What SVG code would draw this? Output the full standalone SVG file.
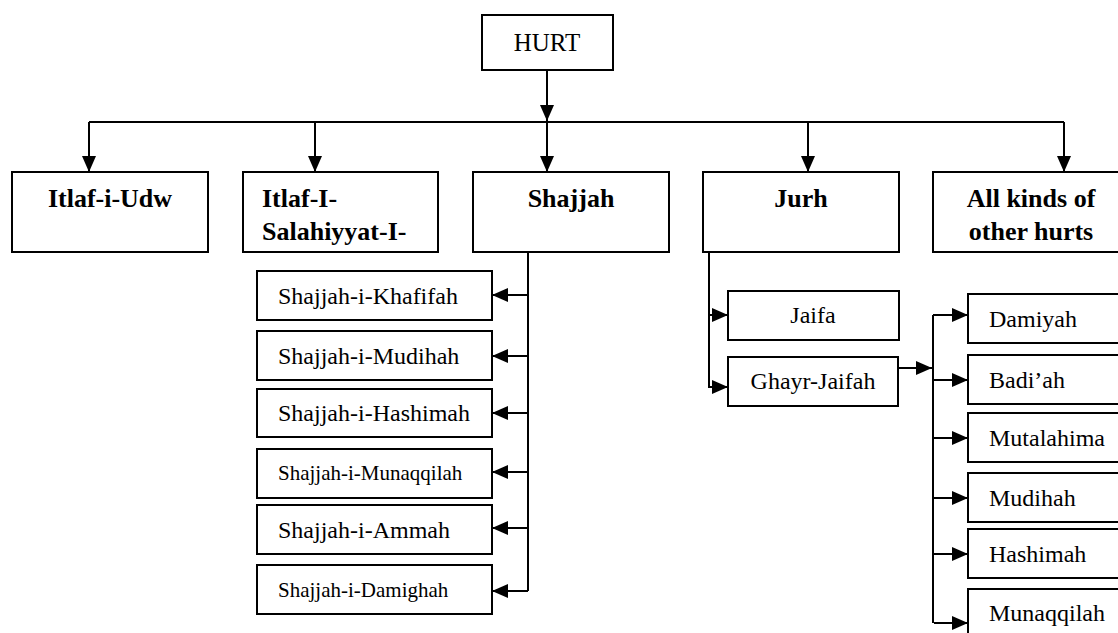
<svg xmlns="http://www.w3.org/2000/svg" width="1118" height="633" viewBox="0 0 1118 633">
<style>
.box{fill:#fff;stroke:#000;stroke-width:2}
text{font-family:"Liberation Serif","Times New Roman",Tinos,"DejaVu Serif",serif;fill:#000}
.b{font-weight:bold;font-size:26px}
.r{font-size:24px}
.s{font-size:21px}
.h{font-size:25px}
.c{text-anchor:middle}
.ln{fill:none;stroke:#000;stroke-width:2}
.ar{fill:none;stroke:#000;stroke-width:2;marker-end:url(#ah)}
</style>
<defs>
<marker id="ah" markerUnits="userSpaceOnUse" markerWidth="16" markerHeight="14" refX="16" refY="7" orient="auto">
<path d="M0,0 L16,7 L0,14 z" fill="#000"/>
</marker>
</defs>
<g id="connectors">
<path class="ar" d="M547,70 V121"/>
<path class="ln" d="M89,122 H1064"/>
<path class="ar" d="M89,122 V172"/>
<path class="ar" d="M315,122 V172"/>
<path class="ar" d="M547,122 V172"/>
<path class="ar" d="M808,122 V172"/>
<path class="ar" d="M1064,122 V172"/>
<path class="ln" d="M528,252 V591"/>
<path class="ar" d="M528,295 H492"/>
<path class="ar" d="M528,356 H492"/>
<path class="ar" d="M528,413 H492"/>
<path class="ar" d="M528,472 H492"/>
<path class="ar" d="M528,528 H492"/>
<path class="ar" d="M528,591 H492"/>
<path class="ar" d="M709,252 V387 H728"/>
<path class="ar" d="M709,315 H728"/>
<path class="ar" d="M898,368 H932"/>
<path class="ln" d="M933,315 V623"/>
<path class="ar" d="M933,315 H968"/>
<path class="ar" d="M933,380 H968"/>
<path class="ar" d="M934,438 H968"/>
<path class="ar" d="M934,498 H968"/>
<path class="ar" d="M934,554 H968"/>
<path class="ar" d="M934,623 H968"/>
</g>
<g id="hurt"><rect class="box" x="482" y="15" width="131" height="55"/><text class="h c" x="547" y="51">HURT</text></g>
<g id="itlaf-udw"><rect class="box" x="12" y="172" width="196" height="80"/><text class="b c" x="110" y="207">Itlaf-i-Udw</text></g>
<g id="itlaf-salahiyyat"><rect class="box" x="243" y="172" width="195" height="80"/><text class="b" x="262" y="207">Itlaf-I-</text><text class="b" x="262" y="240">Salahiyyat-I-</text></g>
<g id="shajjah"><rect class="box" x="473" y="172" width="196" height="80"/><text class="b c" x="571" y="207">Shajjah</text></g>
<g id="jurh"><rect class="box" x="703" y="172" width="196" height="80"/><text class="b c" x="801" y="207">Jurh</text></g>
<g id="other-hurts"><rect class="box" x="933" y="172" width="197" height="80"/><text class="b c" x="1031" y="207">All kinds of</text><text class="b c" x="1031" y="240">other hurts</text></g>
<g id="khafifah"><rect class="box" x="257" y="271" width="235" height="49"/><text class="r" x="278" y="304">Shajjah-i-Khafifah</text></g>
<g id="mudihah1"><rect class="box" x="257" y="331" width="235" height="49"/><text class="r" x="278" y="364">Shajjah-i-Mudihah</text></g>
<g id="hashimah1"><rect class="box" x="257" y="389" width="235" height="48"/><text class="r" x="278" y="421">Shajjah-i-Hashimah</text></g>
<g id="munaqqilah1"><rect class="box" x="257" y="449" width="235" height="49"/><text class="s" x="278" y="480">Shajjah-i-Munaqqilah</text></g>
<g id="ammah"><rect class="box" x="257" y="505" width="235" height="49"/><text class="r" x="278" y="538">Shajjah-i-Ammah</text></g>
<g id="damighah"><rect class="box" x="257" y="565" width="235" height="49"/><text class="s" x="278" y="597">Shajjah-i-Damighah</text></g>
<g id="jaifa"><rect class="box" x="728" y="291" width="171" height="49"/><text class="r c" x="813" y="323">Jaifa</text></g>
<g id="ghayr-jaifah"><rect class="box" x="728" y="357" width="170" height="49"/><text class="r c" x="813" y="389">Ghayr-Jaifah</text></g>
<g id="damiyah"><rect class="box" x="968" y="294" width="162" height="49"/><text class="r" x="989" y="327">Damiyah</text></g>
<g id="badiah"><rect class="box" x="968" y="355" width="162" height="49"/><text class="r" x="989" y="388">Badi’ah</text></g>
<g id="mutalahima"><rect class="box" x="968" y="413" width="162" height="49"/><text class="r" x="989" y="446">Mutalahima</text></g>
<g id="mudihah2"><rect class="box" x="968" y="473" width="162" height="49"/><text class="r" x="989" y="506">Mudihah</text></g>
<g id="hashimah2"><rect class="box" x="968" y="529" width="162" height="49"/><text class="r" x="989" y="562">Hashimah</text></g>
<g id="munaqqilah2"><rect class="box" x="968" y="589" width="162" height="60"/><text class="r" x="989" y="621">Munaqqilah</text></g>
</svg>
